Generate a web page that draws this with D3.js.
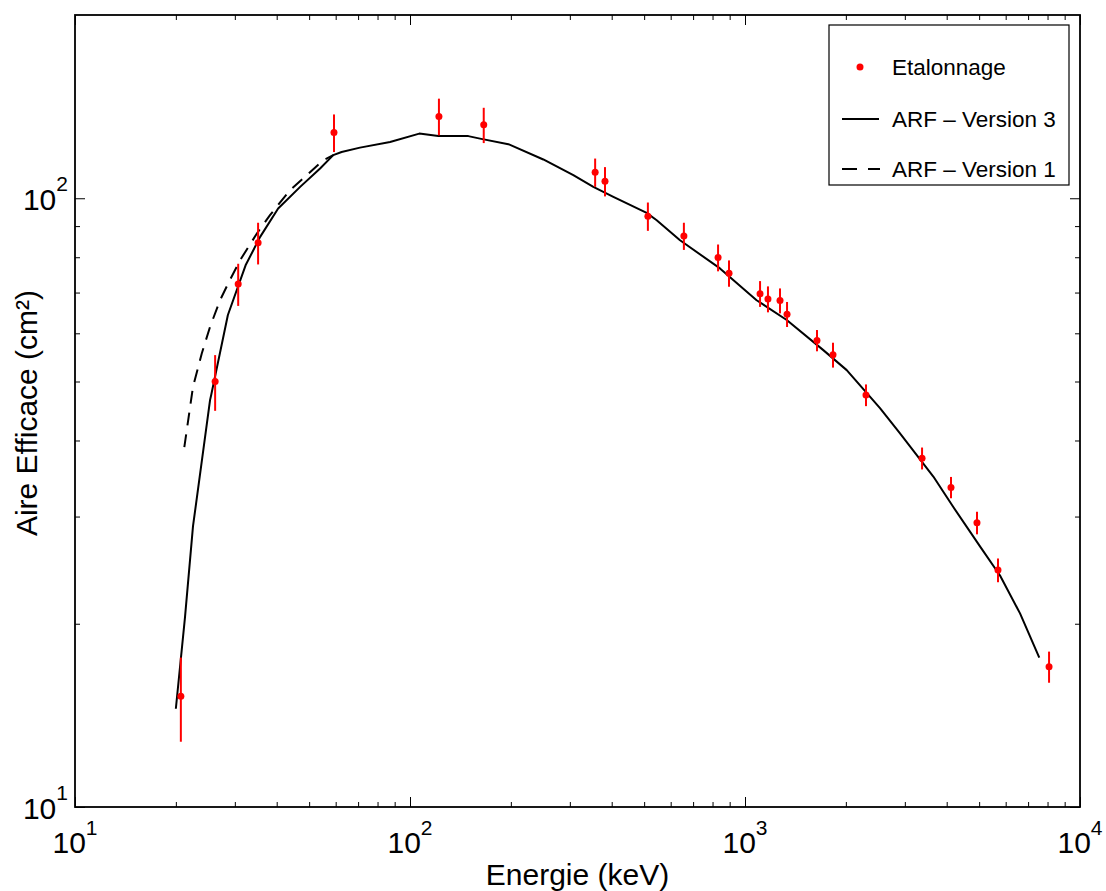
<!DOCTYPE html>
<html>
<head>
<meta charset="utf-8">
<script src="https://cdn.jsdelivr.net/npm/d3@7"></script>
<style>
  html, body { margin: 0; padding: 0; background: #fff; }
  svg { display: block; }
  text { font-family: "Liberation Sans", Arial, Helvetica, sans-serif; fill: #000; }
</style>
</head>
<body>
<svg id="chart" width="1106" height="891"></svg>
<script>
// ---- Data ----
// Calibration points (Etalonnage): energy (keV), effective area (cm²), error (cm²)
const calEnergy = [20.7, 26.2, 30.7, 35.2, 59.3, 122, 166, 357, 382, 513, 657, 831, 896,
                   1109, 1171, 1272, 1335, 1640, 1831, 2297, 3377, 4120, 4926, 5691, 8084];
const calArea   = [15.2, 50.0, 72.3, 84.5, 128.2, 136.3, 132.0, 110.3, 106.6, 93.4, 86.7, 79.9, 75.3,
                   69.7, 68.3, 67.9, 64.5, 58.4, 55.3, 47.5, 37.4, 33.5, 29.3, 24.5, 17.0];
const calError  = [2.4, 5.25, 5.75, 6.65, 9.1, 9.45, 8.8, 5.9, 5.9, 5.0, 4.45, 4.05, 3.75,
                   3.4, 3.35, 3.2, 3.05, 2.35, 2.6, 1.95, 1.55, 1.35, 1.25, 1.1, 1.0];

// ARF - Version 3 (solid)
const arf3Energy = [20.0, 21.3, 22.5, 25.3, 25.5, 28.6, 32.3, 35.7, 40.4, 47.0, 53.9, 59.0, 62.5, 70.9,
                    87.2, 106.6, 121.5, 149.3, 161.8, 196.6, 250, 307.3, 352.6, 404.6, 508.8, 545,
                    639.8, 842, 1083, 1332, 1713, 2012, 2529, 2902, 3649, 4186, 5029, 5771, 6622, 7558];
const arf3Area   = [14.5, 20.5, 28.9, 46.6, 47.5, 64.3, 77.6, 86.4, 96.2, 104.4, 111.9, 117.7, 119.1, 121.1,
                    123.7, 127.7, 126.5, 126.5, 125.3, 122.7, 115.8, 109.1, 104.4, 100.5, 94.6, 92.0,
                    85.3, 76.7, 68.0, 63.1, 56.3, 52.2, 45.2, 41.1, 34.9, 31.1, 26.8, 24.0, 20.8, 17.6];

// ARF - Version 1 (dashed, visible part below ~60 keV)
const arf1Energy = [21.2, 22.5, 23.9, 25.3, 27.1, 29.0, 31.1, 34.9, 38.2, 43.8, 49.2, 55.1, 59.0];
const arf1Area   = [39.0, 49.0, 55.6, 61.5, 68.0, 73.4, 79.1, 87.5, 93.8, 103.1, 109.1, 115.5, 117.7];

// Axes
const xDomain = [10, 10000];
const yDomain = [10, 200];
const xMajorTicks = [10, 100, 1000, 10000];
const xTickExponents = ["1", "2", "3", "4"];
const yMajorTicks = [10, 100];
const yTickExponents = ["1", "2"];
const xLabel = "Energie (keV)";
const yLabel = "Aire Efficace (cm²)";
const legendLabels = ["Etalonnage", "ARF – Version 3", "ARF – Version 1"];

// ---- Layout ----
const svg = d3.select("#chart");
const pLeft = 75, pRight = 1080, pTop = 15, pBottom = 807;
const x = d3.scaleLog().domain(xDomain).range([pLeft, pRight]);
const y = d3.scaleLog().domain(yDomain).range([pBottom, pTop]);

// minor ticks
const xMinor = [];
for (let d = 10; d < 10000; d *= 10) for (let k = 2; k <= 9; k++) xMinor.push(k * d);
const yMinor = [];
for (let d = 10; d < 200; d *= 10) for (let k = 2; k <= 9; k++) if (k * d < 200) yMinor.push(k * d);

const fmt = () => "";
function styleAxis(g) {
  g.select(".domain").remove();
  g.selectAll(".tick line").attr("stroke", "#000").attr("stroke-width", 1);
}
// bottom
svg.append("g").attr("transform", `translate(0,${pBottom})`)
  .call(d3.axisBottom(x).tickValues(xMajorTicks).tickSize(-10).tickFormat(fmt)).call(styleAxis);
svg.append("g").attr("transform", `translate(0,${pBottom})`)
  .call(d3.axisBottom(x).tickValues(xMinor).tickSize(-5).tickFormat(fmt)).call(styleAxis);
// top
svg.append("g").attr("transform", `translate(0,${pTop})`)
  .call(d3.axisTop(x).tickValues(xMajorTicks).tickSize(-10).tickFormat(fmt)).call(styleAxis);
svg.append("g").attr("transform", `translate(0,${pTop})`)
  .call(d3.axisTop(x).tickValues(xMinor).tickSize(-5).tickFormat(fmt)).call(styleAxis);
// left
svg.append("g").attr("transform", `translate(${pLeft},0)`)
  .call(d3.axisLeft(y).tickValues(yMajorTicks).tickSize(-10).tickFormat(fmt)).call(styleAxis);
svg.append("g").attr("transform", `translate(${pLeft},0)`)
  .call(d3.axisLeft(y).tickValues(yMinor).tickSize(-5).tickFormat(fmt)).call(styleAxis);
// right
svg.append("g").attr("transform", `translate(${pRight},0)`)
  .call(d3.axisRight(y).tickValues(yMajorTicks).tickSize(-10).tickFormat(fmt)).call(styleAxis);
svg.append("g").attr("transform", `translate(${pRight},0)`)
  .call(d3.axisRight(y).tickValues(yMinor).tickSize(-5).tickFormat(fmt)).call(styleAxis);

// frame
svg.append("rect").attr("x", pLeft).attr("y", pTop)
  .attr("width", pRight - pLeft).attr("height", pBottom - pTop)
  .attr("fill", "none").attr("stroke", "#000").attr("stroke-width", 1.8);

// tick labels
xMajorTicks.forEach((v, i) => {
  const t = svg.append("text").attr("x", x(v)).attr("y", 853)
    .attr("text-anchor", "middle").style("font-size", "30px");
  t.append("tspan").text("10");
  t.append("tspan").attr("dy", -18).style("font-size", "21px").text(xTickExponents[i]);
});
yMajorTicks.forEach((v, i) => {
  const t = svg.append("text").attr("x", 68).attr("y", y(v) + 12)
    .attr("text-anchor", "end").style("font-size", "30px");
  t.append("tspan").text("10");
  t.append("tspan").attr("dy", -19).style("font-size", "21px").text(yTickExponents[i]);
});

// axis titles
svg.append("text").attr("x", (pLeft + pRight) / 2).attr("y", 885)
  .attr("text-anchor", "middle").style("font-size", "30px").text(xLabel);
svg.append("text").attr("transform", `translate(37,${(pTop + pBottom) / 2 + 2}) rotate(-90)`)
  .attr("text-anchor", "middle").style("font-size", "30px").text(yLabel);

// ---- Curves ----
const clipId = "plotclip";
svg.append("clipPath").attr("id", clipId).append("rect")
  .attr("x", pLeft).attr("y", pTop).attr("width", pRight - pLeft).attr("height", pBottom - pTop);
const plot = svg.append("g").attr("clip-path", `url(#${clipId})`);

const line = d3.line().x(d => x(d[0])).y(d => y(d[1]));
plot.append("path").datum(arf1Energy.map((e, i) => [e, arf1Area[i]]))
  .attr("d", line).attr("fill", "none").attr("stroke", "#000")
  .attr("stroke-width", 2).attr("stroke-dasharray", "13,9");
plot.append("path").datum(arf3Energy.map((e, i) => [e, arf3Area[i]]))
  .attr("d", line).attr("fill", "none").attr("stroke", "#000")
  .attr("stroke-width", 2).attr("stroke-linejoin", "round");

// ---- Calibration points with error bars ----
const red = "#ff0000";
const pts = calEnergy.map((e, i) => ({ e, a: calArea[i], err: calError[i] }));
plot.selectAll("line.err").data(pts).enter().append("line")
  .attr("class", "err")
  .attr("x1", d => x(d.e)).attr("x2", d => x(d.e))
  .attr("y1", d => y(d.a + d.err)).attr("y2", d => y(d.a - d.err))
  .attr("stroke", red).attr("stroke-width", 2);
plot.selectAll("circle.pt").data(pts).enter().append("circle")
  .attr("class", "pt")
  .attr("cx", d => x(d.e)).attr("cy", d => y(d.a)).attr("r", 3.5)
  .attr("fill", red);

// ---- Legend ----
const lg = svg.append("g");
lg.append("rect").attr("x", 829).attr("y", 25).attr("width", 240).attr("height", 160)
  .attr("fill", "#fff").attr("stroke", "#000").attr("stroke-width", 1.2);
lg.append("circle").attr("cx", 860).attr("cy", 67).attr("r", 3.5).attr("fill", red);
lg.append("line").attr("x1", 842).attr("x2", 879).attr("y1", 119).attr("y2", 119)
  .attr("stroke", "#000").attr("stroke-width", 2);
lg.append("line").attr("x1", 842).attr("x2", 880).attr("y1", 169).attr("y2", 169)
  .attr("stroke", "#000").attr("stroke-width", 2).attr("stroke-dasharray", "15,11");
[75, 127, 177].forEach((by, i) => {
  lg.append("text").attr("x", 892).attr("y", by).style("font-size", "22.5px").text(legendLabels[i]);
});
</script>
</body>
</html>
